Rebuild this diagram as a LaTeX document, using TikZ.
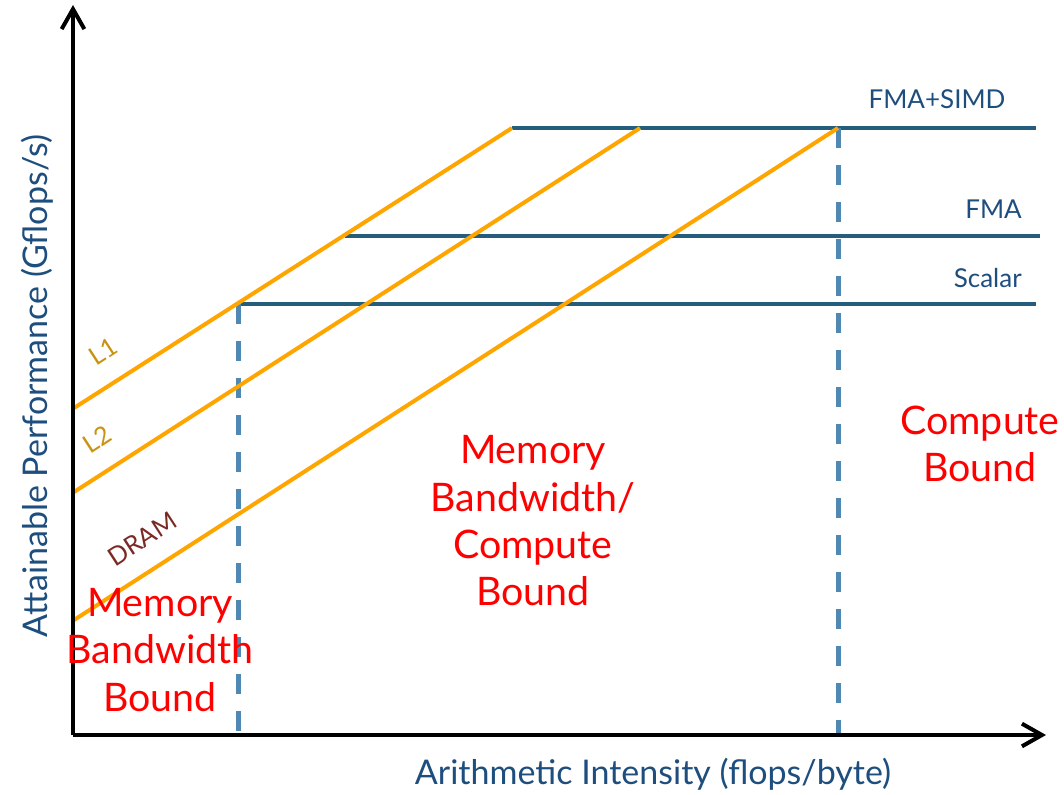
\documentclass[tikz,border=0pt]{standalone}
\usepackage{fontspec}
\setmainfont{Lato}
\usetikzlibrary{arrows.meta}
\definecolor{roofblue}{HTML}{245E7C}
\definecolor{dashblue}{HTML}{4F88B2}
\definecolor{bworange}{HTML}{FFA500}
\definecolor{cachegold}{HTML}{C99210}
\definecolor{dramred}{HTML}{7A2A24}
\definecolor{labelblue}{HTML}{1E4E7E}
\definecolor{regionred}{HTML}{FF0000}
\tikzset{
  axis/.style={line width=3pt, black, -{Straight Barb[length=15pt,width=17pt,line width=3pt]}},
  roof/.style={line width=3pt, roofblue},
  bwline/.style={line width=3pt, bworange},
  ridge/.style={line width=3.75pt, dashblue, dash pattern=on 15pt off 12.75pt},
  peaklabel/.style={text=labelblue, font=\fontsize{19.5}{23}\selectfont, inner sep=0pt},
  axislabel/.style={text=labelblue, font=\fontsize{25.5}{30}\selectfont, inner sep=0pt},
  bwlabel/.style={font=\fontsize{19}{22}\selectfont, inner sep=0pt, rotate=33},
  region/.style={text=regionred, font=\fontsize{29.5}{35.5}\selectfont, align=center, inner sep=0pt}
}
\begin{document}
\begin{tikzpicture}[x=0.75pt, y=-0.75pt]
\useasboundingbox (0,0) rectangle (1064,794);

% axes
\coordinate (origin) at (73,735);
\coordinate (ytip) at (73,5);
\coordinate (xtip) at (1046,735);

% bandwidth ceilings (start on the y axis)
\coordinate (l1s) at (74,408);
\coordinate (l2s) at (74,492);
\coordinate (drs) at (74,620);

% compute ceilings
\coordinate (simdL) at (512,128);  \coordinate (simdR) at (1036,128);
\coordinate (fmaL) at (345,236);   \coordinate (fmaR) at (1040,236);
\coordinate (scalL) at (238,304);  \coordinate (scalR) at (1036,304);
\coordinate (l2e) at (640,128);
\coordinate (dre) at (838,128);

% ridge points projected on the x axis
\coordinate (ridgeA) at (238,735);
\coordinate (ridgeB) at (838,735);

% horizontal compute roofs
\draw[roof] (simdL) -- (simdR);
\draw[roof] (fmaL) -- (fmaR);
\draw[roof] (scalL) -- (scalR);

% ridge markers
\draw[ridge] (scalL) -- (ridgeA);
\draw[ridge] (dre) -- (ridgeB);

% sloped bandwidth roofs
\draw[bwline] (l1s) -- (simdL);
\draw[bwline] (l2s) -- (l2e);
\draw[bwline] (drs) -- (dre);

% axes on top
\draw[axis] (origin) -- (ytip);
\draw[axis] (origin) -- (xtip);

% roof labels
\node[peaklabel] (tsimd) at (937,99) {FMA+SIMD};
\node[peaklabel, anchor=east] (tfma) at (1022,209) {FMA};
\node[peaklabel, anchor=east] (tscal) at (1022,278) {Scalar};

\node[bwlabel, text=cachegold] (tl1) at (103,351) {L1};
\node[bwlabel, text=cachegold] (tl2) at (97,439) {L2};
\node[bwlabel, text=dramred] (tdram) at (142,539) {DRAM};

% axis titles
\node[axislabel, rotate=90] (ylab) at (37,386) {Attainable Performance (Gflops/s)};
\node[axislabel] (xlab) at (653,774) {Arithmetic Intensity (flops/byte)};

% regions
\node[region] (rmem) at (160,650) {Memory\\Bandwidth\\Bound};
\node[region] (rmid) at (533,521) {Memory\\Bandwidth/\\Compute\\Bound};
\node[region] (rcomp) at (980,444) {Compute\\Bound};
\end{tikzpicture}
\end{document}
